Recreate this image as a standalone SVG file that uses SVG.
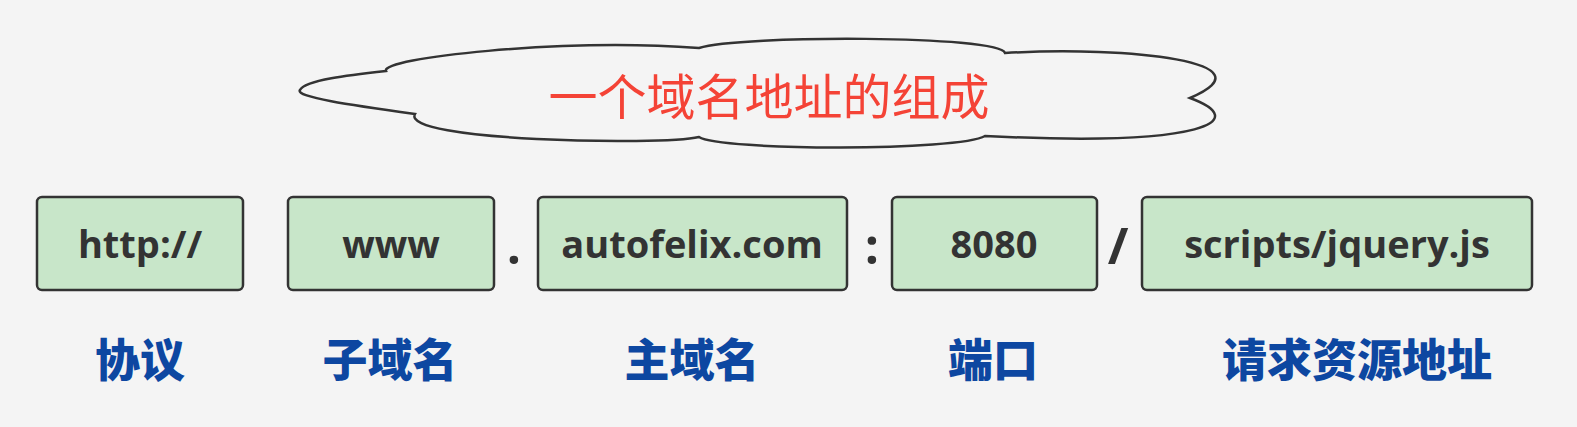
<svg xmlns="http://www.w3.org/2000/svg" width="1577" height="427" viewBox="0 0 1577 427">
<style>
.box{fill:#c8e6c9;stroke:#333;stroke-width:2.5}
.bt{font-family:"Open Sans","Noto Sans",sans-serif;font-weight:bold;font-size:38px;fill:#333;text-anchor:middle}
.sep{font-family:"Open Sans","Noto Sans",sans-serif;font-weight:bold;font-size:50px;fill:#333;text-anchor:middle}
.lb{font-family:"Noto Sans CJK SC",sans-serif;font-weight:900;font-size:45px;fill:#0d47a1;text-anchor:middle}
.title{font-family:"Noto Sans CJK SC",sans-serif;font-size:49px;fill:#f44336;text-anchor:middle}
</style>
<rect width="1577" height="427" fill="#f4f4f4"/>
<g id="cloud">
<path d="M386,71 C380,58 560,38 699,48 C740,35 1000,35 1005,53 C1130,46 1275,62 1190,98 C1250,120 1210,147 985,136 C960,151 720,151 699,137 C660,146 400,141 415,114 C350,105 295,97 300,90 C305,80 350,75 386,71 Z" fill="#f4f4f4" stroke="#333" stroke-width="2.5"/>
<text class="title" x="769" y="115">一个域名地址的组成</text>
</g>
<g id="node-http"><rect class="box" x="37" y="197" width="206" height="93" rx="5"/><text class="bt" x="140" y="258">http://</text></g>
<g id="node-www"><rect class="box" x="288" y="197" width="206" height="93" rx="5"/><text class="bt" x="391" y="258">www</text></g>
<g id="node-domain"><rect class="box" x="538" y="197" width="309" height="93" rx="5"/><text class="bt" x="692" y="258">autofelix.com</text></g>
<g id="node-port"><rect class="box" x="892" y="197" width="205" height="93" rx="5"/><text class="bt" x="994" y="258">8080</text></g>
<g id="node-path"><rect class="box" x="1142" y="197" width="390" height="93" rx="5"/><text class="bt" x="1337" y="258">scripts/jquery.js</text></g>
<g id="connectors">
<text class="sep" x="514" y="264">.</text>
<text class="sep" x="872" y="264">:</text>
<text class="sep" x="1118" y="264">/</text>
</g>
<g id="labels">
<text class="lb" x="140" y="377">协议</text>
<text class="lb" x="390" y="377">子域名</text>
<text class="lb" x="692" y="377">主域名</text>
<text class="lb" x="993" y="377">端口</text>
<text class="lb" x="1357" y="377">请求资源地址</text>
</g>
</svg>
